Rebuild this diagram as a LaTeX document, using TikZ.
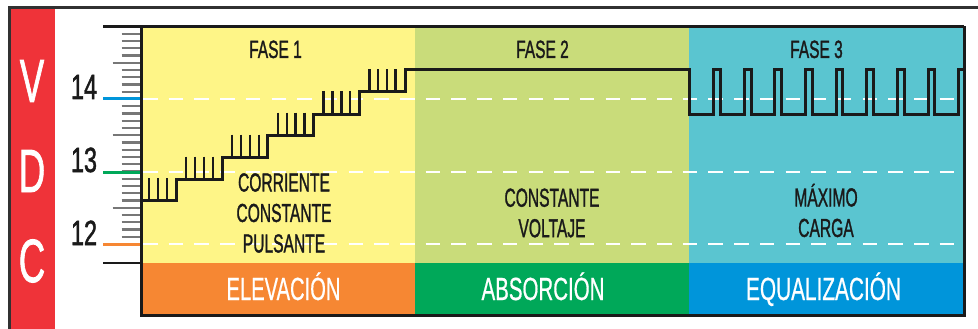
\documentclass[tikz,border=0pt]{standalone}
\usepackage{fontspec}
\setmainfont{Liberation Sans}
\newfontfamily\heavyfont[FakeBold=1.6]{Liberation Sans}
\newfontfamily\midfont[FakeBold=0.8]{Liberation Sans}
\definecolor{cred}{HTML}{EF3339}
\definecolor{cyellow}{HTML}{FEF587}
\definecolor{colive}{HTML}{C9DC7A}
\definecolor{cteal}{HTML}{5AC5D0}
\definecolor{corange}{HTML}{F68733}
\definecolor{cgreen}{HTML}{00A859}
\definecolor{cblue}{HTML}{0095DA}
\definecolor{cink}{HTML}{1A1A1A}
\definecolor{ctick}{HTML}{777777}
\newcommand{\cnd}[2][.6]{\scalebox{#1}[1]{#2}}
\tikzset{
  x=1pt,y=-1pt,
  panel/.style={fill=#1,draw=none},
  frameline/.style={draw=cink,line width=3pt},
  wave/.style={draw=cink,line width=3pt,line join=miter},
  pulse/.style={draw=cink,line width=2.8pt},
  guide/.style={draw=white,line width=2pt,dash pattern=on 14.5pt off 11.2pt},
  smalltick/.style={draw=ctick,line width=2.4pt},
  phasetext/.style={inner sep=0pt,anchor=base,text=cink,font=\heavyfont\fontsize{25}{25}\selectfont},
  bodytext/.style={inner sep=0pt,anchor=center,align=center,text=cink,font=\heavyfont\fontsize{26}{30.5}\selectfont},
  bandtext/.style={inner sep=0pt,anchor=base,text=white,font=\midfont\fontsize{32}{32}\selectfont},
  volttext/.style={inner sep=0pt,anchor=base,text=cink,font=\heavyfont\fontsize{35}{35}\selectfont},
  vdctext/.style={inner sep=0pt,anchor=base,text=white,font=\heavyfont\fontsize{61}{61}\selectfont},
}
\begin{document}
\begin{tikzpicture}
\useasboundingbox (0,0) rectangle (978,329);
\fill[white] (0,0) rectangle (978,329);
% red side strip and outer frame
\fill[cred] (10,8) rectangle (55,329);
\draw[cink!90!white,line width=3pt] (9.5,329) -- (9.5,8) -- (978,8);
% panels
\fill[panel=cyellow] (141,27) rectangle (415,263);
\fill[panel=colive] (415,27) rectangle (689,263);
\fill[panel=cteal] (689,27) rectangle (964,263);
\fill[panel=corange] (141,263) rectangle (415,315);
\fill[panel=cgreen] (415,263) rectangle (689,315);
\fill[panel=cblue] (689,263) rectangle (964,315);
% guides
\foreach \yy in {99,172,244.3} \draw[guide] (143,\yy) -- (963,\yy);
% ticks
\foreach \i in {1,...,29} {
  \pgfmathsetmacro{\yy}{26.5+7.25*\i}
  \draw[smalltick] (121.5,\yy) -- (140,\yy);
}
\foreach \yy in {62.75,135.25,207.75} \draw[smalltick] (112.5,\yy) -- (140,\yy);
\draw[cblue,line width=3pt] (103,99) -- (140,99);
\draw[cgreen,line width=3pt] (103,172) -- (140,172);
\draw[corange,line width=3pt] (103,244.3) -- (140,244.3);
\draw[cink,line width=2.6pt] (103,263) -- (140,263);
% staircase waveform
\draw[wave] (141,200.7) -- (176.7,200.7) -- (176.7,179.3) -- (222,179.3) -- (222,157) -- (267.7,157) -- (267.7,135) -- (313.3,135) -- (313.3,114) -- (359.3,114) -- (359.3,92) -- (405,92) -- (405,70) -- (689.3,70)
  -- (689.3,114) -- (713.3,114) -- (713.3,70) -- (720,70) -- (720,114) -- (744,114) -- (744,70) -- (751,70) -- (751,114) -- (774.3,114) -- (774.3,70) -- (781.7,70) -- (781.7,114) -- (805.3,114) -- (805.3,70) -- (812.3,70) -- (812.3,114) -- (836,114) -- (836,70) -- (842.7,70) -- (842.7,114) -- (866.7,114) -- (866.7,70) -- (873.3,70) -- (873.3,114) -- (897.3,114) -- (897.3,70) -- (904,70) -- (904,114) -- (928,114) -- (928,70) -- (934.7,70) -- (934.7,114) -- (958.3,114) -- (958.3,70) -- (964,70);
\foreach \xx in {149,158,167} \draw[pulse] (\xx,178) -- (\xx,200);
\foreach \xx in {186,195,204,213} \draw[pulse] (\xx,156.5) -- (\xx,179);
\foreach \xx in {232,241,250,259} \draw[pulse] (\xx,134.5) -- (\xx,157);
\foreach \xx in {278,287,295.7,304.3} \draw[pulse] (\xx,112.7) -- (\xx,135);
\foreach \xx in {323.3,332.3,341.3,350} \draw[pulse] (\xx,91) -- (\xx,114);
\foreach \xx in {369.3,378,387,395.7} \draw[pulse] (\xx,69.3) -- (\xx,92);
% chart frame
\draw[frameline] (103,26.5) -- (964,26.5);
\draw[frameline] (964,26.5) -- (964,315) -- (141,315) -- (141,26.5);
% texts
\node[vdctext] (v) at (32,102) {\cnd{V}};
\node[vdctext] (d) at (32,192) {\cnd{D}};
\node[vdctext] (c) at (32,282) {\cnd{C}};
\node[volttext] (n14) at (84,99) {\cnd[.67]{14}};
\node[volttext] (n13) at (84,172) {\cnd[.67]{13}};
\node[volttext] (n12) at (84,245) {\cnd[.67]{12}};
\node[phasetext] (f1) at (275.5,58) {\cnd[.62]{FASE 1}};
\node[phasetext] (f2) at (542.5,58) {\cnd[.62]{FASE 2}};
\node[phasetext] (f3) at (816.5,58) {\cnd[.62]{FASE 3}};
\node[bodytext] (t1) at (284,213) {\cnd{CORRIENTE}\\\cnd{CONSTANTE}\\\cnd{PULSANTE}};
\node[bodytext] (t2) at (552,213) {\cnd{CONSTANTE}\\\cnd{VOLTAJE}};
\node[bodytext] (t3) at (826,210.5) {\cnd{MÁXIMO}\\\cnd{CARGA}};
\node[bandtext] (b1) at (283.5,300) {\cnd[.63]{ELEVACIÓN}};
\node[bandtext] (b2) at (543,300) {\cnd[.64]{ABSORCIÓN}};
\node[bandtext] (b3) at (823.5,300) {\cnd[.65]{EQUALIZACIÓN}};
\end{tikzpicture}
\end{document}
